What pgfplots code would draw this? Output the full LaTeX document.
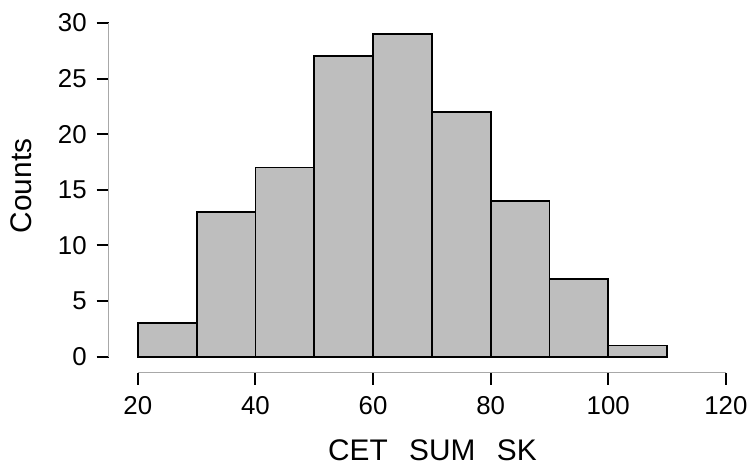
\documentclass[border=0pt]{standalone}
\usepackage{pgfplots}
\pgfplotsset{compat=1.18}
\usepackage{fontspec}
\setmainfont{Liberation Sans}
\definecolor{barfill}{HTML}{BEBEBE}
\definecolor{axgray}{HTML}{A8A8A8}

\begin{document}
\begin{tikzpicture}
\begin{axis}[
  scale only axis,
  width=322.5pt, height=184.5pt,
  xmin=15.03, xmax=124, ymin=-1.454, ymax=31.5,
  axis x line*=bottom, axis y line*=left,
  axis line style={draw=none},
  xtick={20,40,...,120}, ytick={0,5,...,30},
  tick align=outside, major tick length=6pt,
  tick style={black, line width=1pt},
  /pgf/number format/assume math mode=true,
  tick label style={font=\fontsize{13}{15}\selectfont},
  xticklabel style={yshift=-2.5pt},
  yticklabel style={xshift=-1.5pt},
  xlabel={CET\hspace{10.8pt}SUM\hspace{10.8pt}SK}, ylabel={Counts},
  every axis x label/.style={at={(rel axis cs:0.5,0)}, anchor=center,
    xshift=1.75pt, yshift=-38.9pt, font=\fontsize{15}{17}\selectfont},
  every axis y label/.style={at={(rel axis cs:0,0.5)}, xshift=-43.9pt,
    yshift=1.8pt, anchor=center, rotate=90, font=\fontsize{15}{17}\selectfont},
  clip=false,
]
\addplot[ybar interval, fill=barfill, draw=black, line width=0.9pt] coordinates {
  (20,3) (30,13) (40,17) (50,27) (60,29) (70,22) (80,14) (90,7) (100,1) (110,1)};
\draw[axgray, line width=0.6pt] (axis cs:20,-1.454) -- (axis cs:120,-1.454);
\draw[axgray, line width=0.6pt] (axis cs:15.03,0) -- (axis cs:15.03,30);
\end{axis}
\path[use as bounding box] (-54.65pt,-46.35pt) rectangle (322.35pt,187.65pt);
\end{tikzpicture}
\end{document}
